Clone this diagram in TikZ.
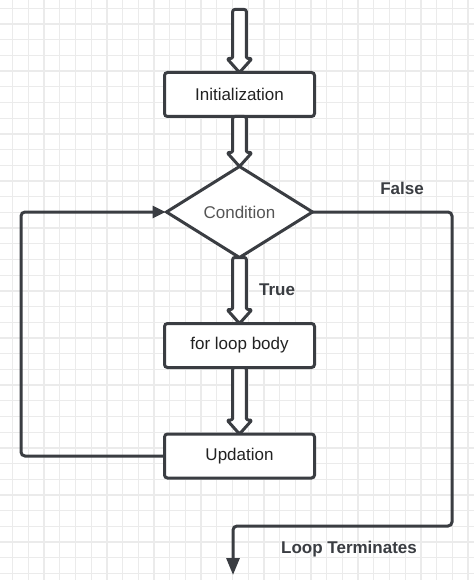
\documentclass[tikz,border=0pt]{standalone}
\usepackage{fontspec}
\setmainfont{Liberation Sans}
\usetikzlibrary{shapes.geometric,arrows.meta,calc}

\definecolor{inkgray}{HTML}{3A3D42}
\definecolor{gridgray}{HTML}{EBEBEB}
\definecolor{textgray}{HTML}{555555}
\definecolor{textdark}{HTML}{222222}

\tikzset{
  box/.style={draw=inkgray, line width=3pt, rounded corners=3pt, fill=white,
    minimum width=150pt, minimum height=44pt, inner sep=0pt, outer sep=0pt,
    text=textdark, font=\fontsize{17}{20}\selectfont},
  decision/.style={diamond, draw=inkgray, line width=3pt, fill=white,
    minimum width=146pt, minimum height=91pt, inner sep=0pt, outer sep=0pt,
    text=textgray, font=\fontsize{17}{20}\selectfont},
  flowline/.style={draw=inkgray, line width=3pt, rounded corners=4pt},
  blockarrow/.style={draw=inkgray, line width=3pt, fill=white, line join=round, rounded corners=2pt},
  lbl/.style={text=inkgray, font=\bfseries\fontsize{17}{20}\selectfont}
}

% hollow block arrow from one node anchor down to another
\newcommand\fatarrow[2]{%
  \path[blockarrow] let \p1=(#1), \p2=(#2) in
    (\x1-6.8pt,\y1) -- (\x1-6.8pt,\y2+14pt) -- (\x1-12.5pt,\y2+14pt) -- (\x1,\y2)
    -- (\x1+12.5pt,\y2+14pt) -- (\x1+6.8pt,\y2+14pt) -- (\x1+6.8pt,\y1) -- cycle;}

\begin{document}
\begin{tikzpicture}[x=1pt, y=-1pt]
    \useasboundingbox (0,0) rectangle (474,580);
    \fill[white] (0,0) rectangle (474,580);

    % background grid
    \foreach \gx in {0,...,29}
        \draw[gridgray, line width=1.3pt] ({12.7+15.7*\gx},0) -- ++(0,580);
    \foreach \gy in {0,...,36}
        \draw[gridgray, line width=1.3pt] (0,{8.3+15.7*\gy}) -- ++(474,0);

    \coordinate (entry) at (239.5, 9.5);
    \node[box] (init) at (239.5, 94.5) {Initialization};
    \node[decision] (cond) at (239.5, 212) {Condition};
    \node[box] (body) at (239.5, 345.5) {for loop body};
    \node[box] (upd) at (239.5, 456) {Updation};

    \fatarrow{entry}{init.north}
    \fatarrow{init.south}{cond.north}
    \fatarrow{cond.south}{body.north}
    \fatarrow{body.south}{upd.north}

    % loop back to the condition
    \coordinate (backlow) at (21, 456);
    \coordinate (backhigh) at (21, 212);
    \draw[flowline, -{Triangle[length=13pt,width=12pt]}, shorten >=1pt]
        (upd.west) -- (backlow) -- (backhigh) -- (cond.west);

    % exit when false
    \coordinate (exitright) at (452, 212);
    \coordinate (exitlow) at (452, 526);
    \coordinate (exitleft) at (233, 526);
    \coordinate (exit) at (233, 575);
    \draw[flowline, -{Triangle[length=17pt,width=13pt]}]
        (cond.east) -- (exitright) -- (exitlow) -- (exitleft) -- (exit);

    \node[lbl] (falselbl) at (402, 188) {False};
    \node[lbl] (truelbl) at (277, 290) {True};
    \node[lbl] (endlbl) at (349, 549) {Loop Terminates};
\end{tikzpicture}
\end{document}
